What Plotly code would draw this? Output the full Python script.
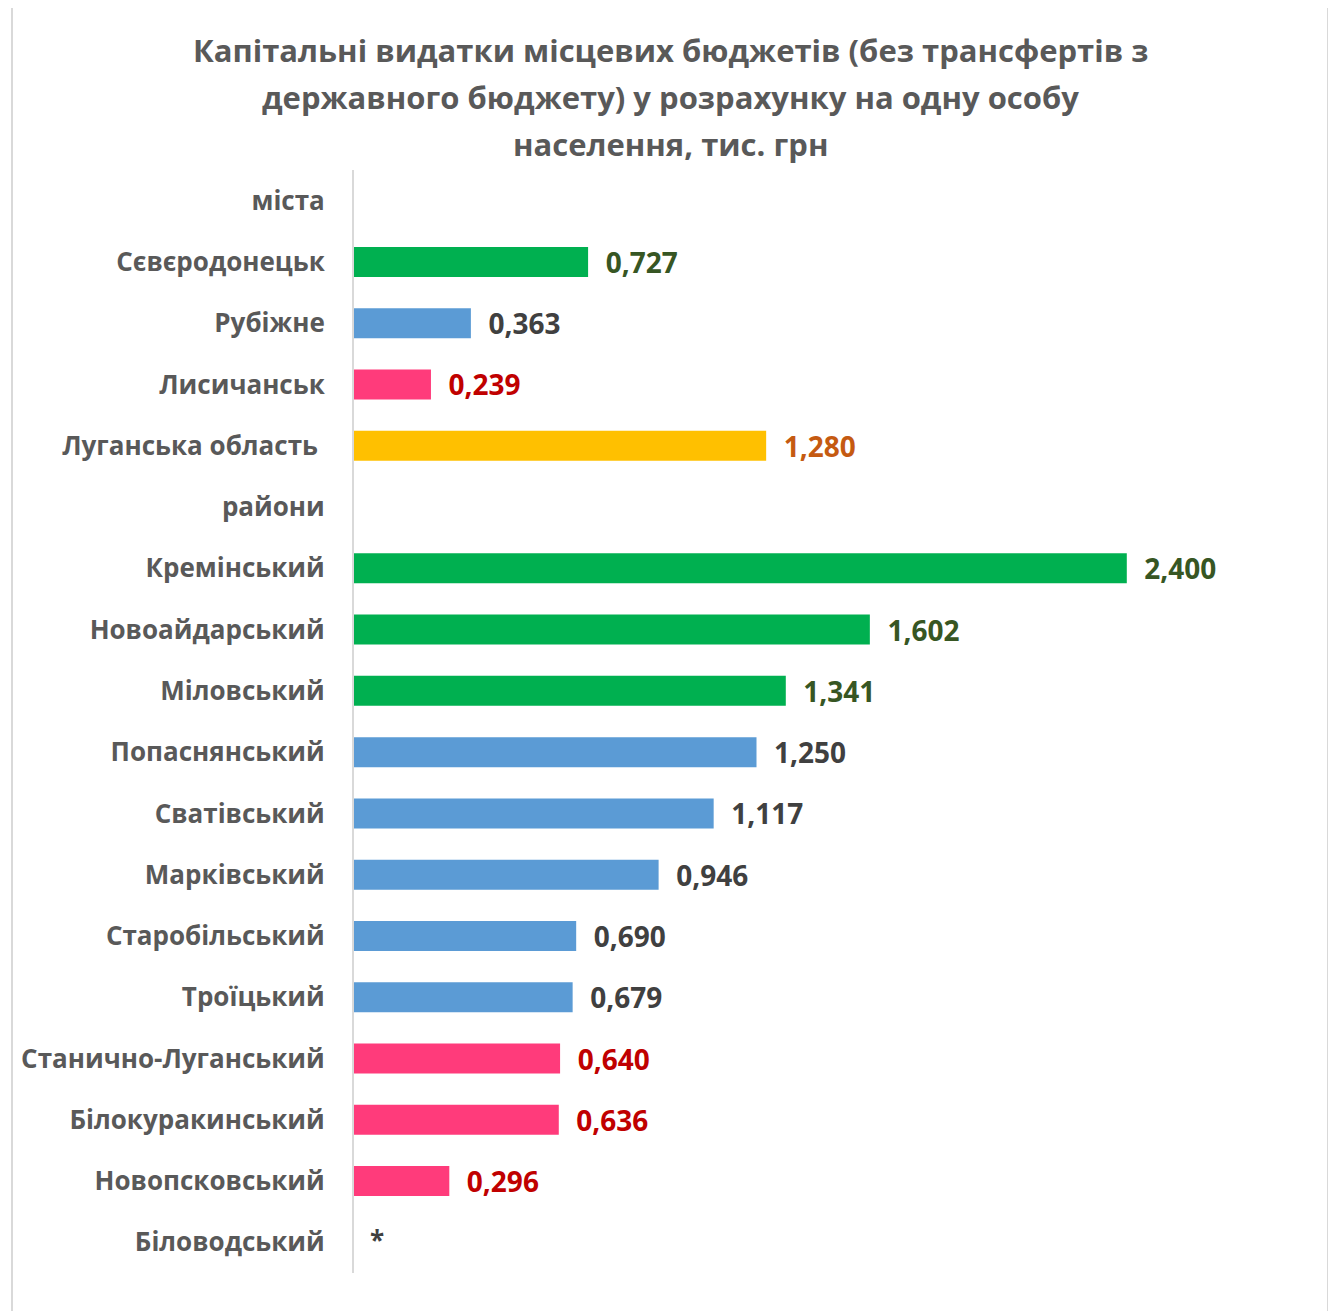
import plotly.graph_objects as go

categories = ["міста", "Сєвєродонецьк", "Рубіжне", "Лисичанськ", "Луганська область ",
              "райони", "Кремінський", "Новоайдарський", "Міловський", "Попаснянський",
              "Сватівський", "Марківський", "Старобільський", "Троїцький",
              "Станично-Луганський", "Білокуракинський", "Новопсковський", "Біловодський"]
values = [None, 0.727, 0.363, 0.239, 1.280, None, 2.400, 1.602, 1.341, 1.250,
          1.117, 0.946, 0.690, 0.679, 0.640, 0.636, 0.296, None]
groups = ["", "g", "b", "r", "o", "", "g", "g", "g", "b", "b", "b", "b", "b", "r", "r", "r", ""]
missing_label = "*"

bar_col = {"g": "#00B050", "b": "#5B9BD5", "r": "#FF3B7B", "o": "#FFC000", "": "rgba(0,0,0,0)"}
txt_col = {"g": "#375623", "b": "#404040", "r": "#C00000", "o": "#C55A11", "": "#404040"}

FONT = "Open Sans"
texts = ["\u00a0\u00a0" + f"{v:.3f}".replace(".", ",") if v is not None else "" for v in values]

OFF = 8  # page offset
W, H = 1336, 1311
ml, mt = 354 - OFF, 170 - OFF
plot_bottom = 1273 - OFF
pw = 956
mr = W - ml - pw
mb = H - plot_bottom
ph = plot_bottom - mt

def px_to_paper_x(px):
    return (px - OFF - ml) / pw

def px_to_paper_y(py):
    return (plot_bottom - (py - OFF)) / ph

fig = go.Figure(go.Bar(
    y=categories, x=values, orientation="h",
    marker=dict(color=[bar_col[g] for g in groups], line=dict(width=0)),
    text=texts, textposition="outside", cliponaxis=False, constraintext="none",
    textfont=dict(family=FONT, size=28, color=[txt_col[g] for g in groups], weight="bold"),
    hoverinfo="skip",
))

fig.add_annotation(x=0, y=categories[-1], xref="x", yref="y", text=missing_label,
                   showarrow=False, xanchor="left", xshift=14, yshift=2,
                   font=dict(family=FONT, size=26, color="#404040", weight="bold"))

title_lines = ["Капітальні видатки місцевих бюджетів (без трансфертів з",
               "державного бюджету) у розрахунку на одну особу",
               "населення, тис. грн"]
for i, line in enumerate(title_lines):
    fig.add_annotation(x=px_to_paper_x(670), y=px_to_paper_y(50 + 47 * i), xref="paper", yref="paper",
                       text=line, showarrow=False, xanchor="center", yanchor="middle",
                       font=dict(family=FONT, size=31, color="#595959", weight="bold"))

fig.add_shape(type="rect", xref="paper", yref="paper",
              x0=px_to_paper_x(12), x1=px_to_paper_x(1328),
              y0=px_to_paper_y(1330), y1=px_to_paper_y(5),
              line=dict(color="#D9D9D9", width=2), fillcolor="rgba(0,0,0,0)", layer="below")

fig.update_layout(
    width=W, height=H,
    margin=dict(l=ml, r=mr, t=mt, b=mb, autoexpand=False),
    paper_bgcolor="white", plot_bgcolor="white",
    showlegend=False, bargap=0.51,
    xaxis=dict(range=[0, pw / 322.0], visible=False, fixedrange=True, automargin=False),
    yaxis=dict(autorange="reversed", showline=True, linecolor="#D9D9D9", linewidth=2,
               ticks="", showgrid=False, ticklabelstandoff=22, automargin=False,
               tickfont=dict(family=FONT, size=26, color="#595959", weight="bold")),
)

fig.write_html("out.html")
